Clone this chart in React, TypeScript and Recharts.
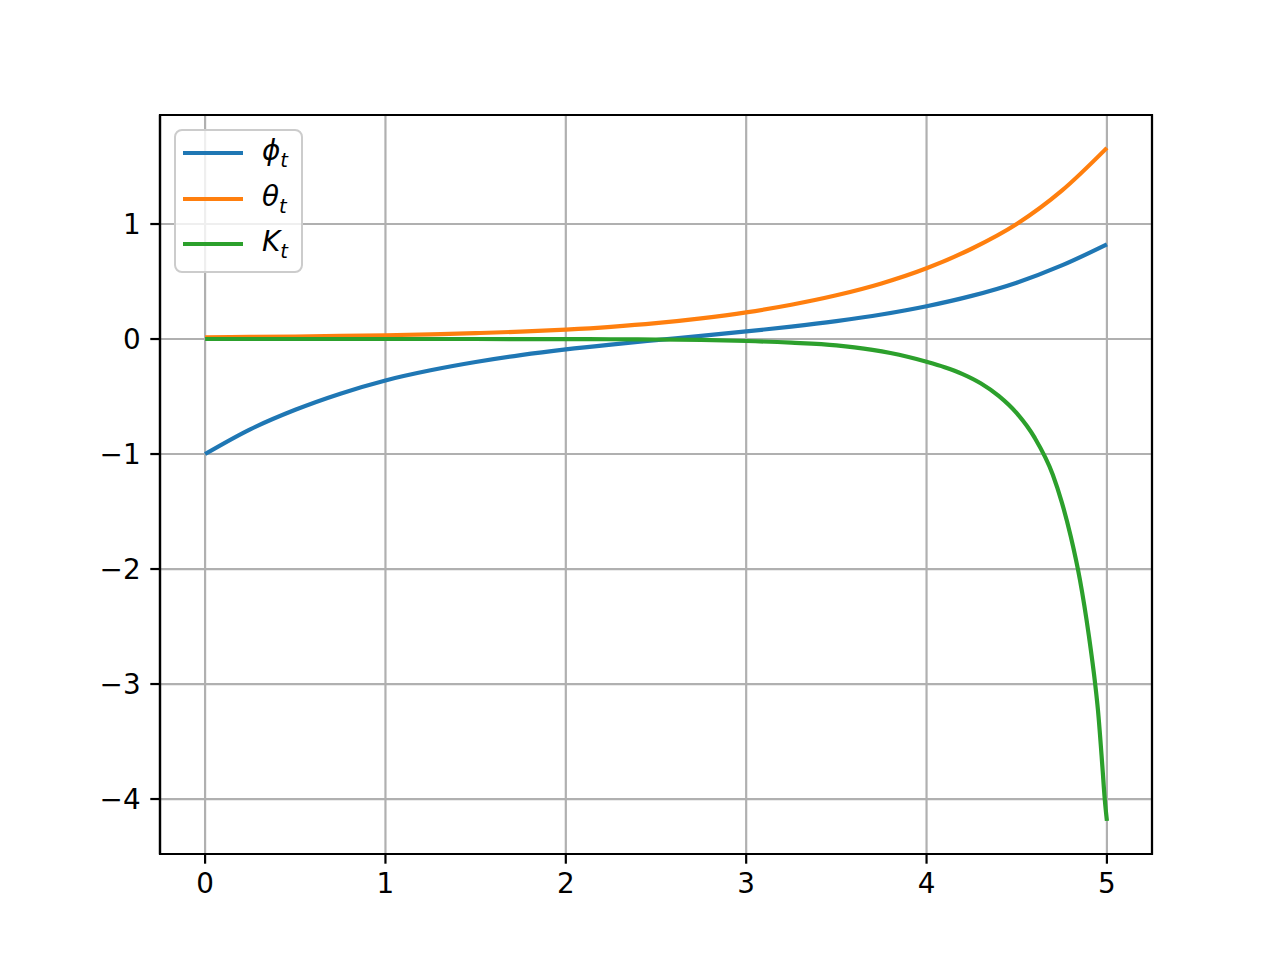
import { LineChart, Line, XAxis, YAxis, CartesianGrid, ReferenceArea } from 'recharts'

// time grid shared by phi and theta
const tGrid = [0, 0.25, 0.5, 0.75, 1, 1.25, 1.5, 1.75, 2, 2.25, 2.5, 2.75, 3, 3.25, 3.5, 3.75, 4, 4.25, 4.5, 4.75, 5]
const phiValues = [-1, -0.785, -0.615, -0.475, -0.36, -0.272, -0.2, -0.14, -0.09, -0.048, -0.01, 0.027, 0.066, 0.108, 0.156, 0.213, 0.285, 0.375, 0.49, 0.64, 0.823]
const thetaValues = [0.015, 0.018, 0.022, 0.027, 0.033, 0.041, 0.051, 0.064, 0.082, 0.106, 0.138, 0.18, 0.232, 0.298, 0.38, 0.483, 0.615, 0.785, 1.0, 1.29, 1.662]

// K needs finer sampling near t = 5
const kTimes = [0, 0.5, 1, 1.5, 2, 2.25, 2.5, 2.75, 3, 3.25, 3.5, 3.6, 3.7, 3.8, 3.9, 4, 4.1, 4.2, 4.3, 4.4, 4.5, 4.6, 4.7, 4.75, 4.8, 4.85, 4.9, 4.935, 4.95, 4.975, 4.988, 5]
const kValues = [0, 0, 0, 0, -0.001, -0.002, -0.004, -0.008, -0.017, -0.032, -0.055, -0.072, -0.094, -0.122, -0.157, -0.198, -0.245, -0.305, -0.385, -0.495, -0.645, -0.86, -1.18, -1.42, -1.72, -2.09, -2.58, -3.0, -3.22, -3.72, -4.0, -4.19]

const xTicks = [0, 1, 2, 3, 4, 5]
const yTicks = [-4, -3, -2, -1, 0, 1]

const legendItems = [
  { sym: 'ϕ', color: '#1f77b4' },
  { sym: 'θ', color: '#ff7f0e' },
  { sym: 'K', color: '#2ca02c' },
]

const X_DOMAIN: [number, number] = [-0.25, 5.25]
const Y_DOMAIN: [number, number] = [-4.478, 1.948]

const phiData = tGrid.map((t, i) => ({ x: t, y: phiValues[i] }))
const thetaData = tGrid.map((t, i) => ({ x: t, y: thetaValues[i] }))
const kData = kTimes.map((t, i) => ({ x: t, y: kValues[i] }))

const FONT = '"DejaVu Sans", sans-serif'
const fmt = (v: number) => (v < 0 ? '\u2212' + Math.abs(v) : String(v))

function MathLegend() {
  return (
    <div
      style={{
        position: 'absolute',
        left: 174,
        top: 129,
        width: 125,
        height: 140,
        border: '2.2px solid #cccccc',
        borderRadius: 8,
        background: 'rgba(255,255,255,0.8)',
        fontFamily: FONT,
        fontSize: 27.8,
        color: '#000',
      }}
    >
      {legendItems.map((it, i) => (
        <div key={it.sym} style={{ position: 'absolute', left: 0, top: 22 + i * 45.5, width: '100%' }}>
          <div style={{ position: 'absolute', left: 7, top: -2, width: 60, height: 4.2, background: it.color }} />
          <div style={{ position: 'absolute', left: 86, top: -19, whiteSpace: 'nowrap', lineHeight: '34px' }}>
            <span style={{ fontStyle: 'italic' }}>{it.sym}</span>
            <span style={{ fontStyle: 'italic', fontSize: 19.5, position: 'relative', top: 7 }}>t</span>
          </div>
        </div>
      ))}
    </div>
  )
}

export default function App() {
  return (
    <div style={{ position: 'absolute', left: 0, top: 0, width: 1280, height: 960, background: '#fff' }}>
      <LineChart width={1280} height={960} margin={{ top: 115, right: 128, left: 100, bottom: 66 }}>
        <CartesianGrid stroke="#b0b0b0" strokeWidth={2.2} />
        <XAxis
          dataKey="x"
          type="number"
          domain={X_DOMAIN}
          ticks={xTicks}
          allowDataOverflow
          height={40}
          tickSize={9.7}
          tickMargin={9.7}
          axisLine={{ stroke: '#000', strokeWidth: 2.2 }}
          tickLine={{ stroke: '#000', strokeWidth: 2.2 }}
          tick={{ fill: '#000', fontSize: 27.8, fontFamily: FONT }}
        />
        <YAxis
          type="number"
          domain={Y_DOMAIN}
          ticks={yTicks}
          allowDataOverflow
          width={60}
          tickSize={9.7}
          tickMargin={9.7}
          tickFormatter={fmt}
          axisLine={{ stroke: '#000', strokeWidth: 2.2 }}
          tickLine={{ stroke: '#000', strokeWidth: 2.2 }}
          tick={{ fill: '#000', fontSize: 27.8, fontFamily: FONT }}
        />
        <ReferenceArea
          x1={X_DOMAIN[0]}
          x2={X_DOMAIN[1]}
          y1={Y_DOMAIN[0]}
          y2={Y_DOMAIN[1]}
          fill="none"
          stroke="#000"
          strokeWidth={2.2}
          ifOverflow="visible"
        />
        <Line data={phiData} dataKey="y" type="monotone" stroke="#1f77b4" strokeWidth={4.2} dot={false} isAnimationActive={false} />
        <Line data={thetaData} dataKey="y" type="monotone" stroke="#ff7f0e" strokeWidth={4.2} dot={false} isAnimationActive={false} />
        <Line data={kData} dataKey="y" type="monotone" stroke="#2ca02c" strokeWidth={4.2} dot={false} isAnimationActive={false} />
      </LineChart>
      <MathLegend />
    </div>
  )
}
